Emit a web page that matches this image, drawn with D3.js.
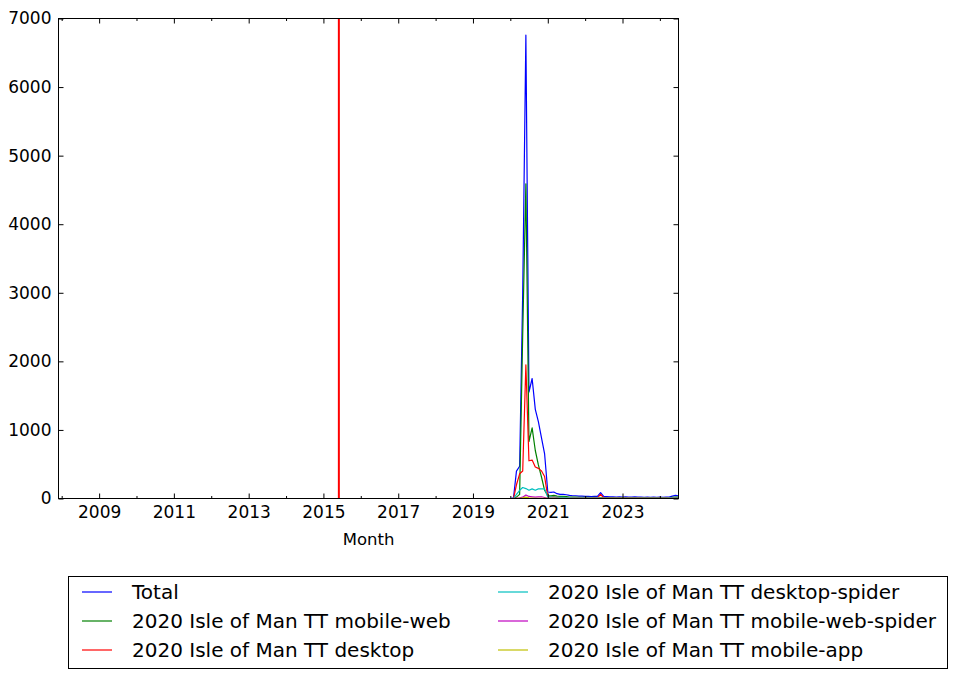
<!DOCTYPE html>
<html><head><meta charset="utf-8">
<script src="https://cdn.jsdelivr.net/npm/d3@7"></script>
<style>body{margin:0;background:#fff}svg{display:block}text{font-family:"DejaVu Sans",sans-serif;fill:#000}</style>
</head><body>
<script>
// ---- data ----
const seriesNames = ["Total","2020 Isle of Man TT mobile-web","2020 Isle of Man TT desktop","2020 Isle of Man TT desktop-spider","2020 Isle of Man TT mobile-web-spider","2020 Isle of Man TT mobile-app"];
const seriesColors = ["#0000ff","#008000","#ff0000","#00bfbf","#bf00bf","#bfbf00"];
// first month shown (all series zero until the article existed)
const leadMonth = "2007-12";
// monthly values 2020-01 .. 2024-07
const firstMonth = "2020-01", lastMonth = "2024-07";
const total = [0,10,400,470,3000,6757,1550,1750,1300,1120,880,650,
  95,90,95,70,60,60,55,45,40,40,35,35,
  30,30,28,30,30,85,30,28,25,25,22,25,
  22,25,22,20,25,22,20,18,20,18,20,18,
  20,18,22,20,35,45,40];
const mobileWeb = [0,0,20,60,2400,4590,830,1030,700,490,310,120,
  40,40,45,35,30,30,28,22,20,20,18,18,
  15,15,14,15,14,12,14,13,12,12,10,12,
  10,12,10,10,12,10,10,9,10,9,10,9,
  10,9,11,10,18,22,20];
const desktop = [0,0,200,360,400,1950,550,560,460,440,400,320,
  25,22,25,15,12,12,12,10,10,10,8,8,
  8,8,7,8,8,60,8,7,6,6,6,6,
  6,6,5,5,6,5,5,4,5,4,5,4,
  5,4,5,5,8,10,9];
const desktopSpider = [0,0,60,120,160,145,120,140,120,140,140,140,
  20,25,22,18,16,15,14,12,10,10,9,9,
  8,8,8,7,8,10,7,7,6,7,6,7,
  6,6,6,5,6,6,5,5,5,5,5,5,
  5,5,6,8,9,10,9];
const mobileWebSpider = [0,0,5,10,20,50,30,25,20,25,25,15,
  3,3,2,2,2,2,2,2,2,2,1,1,
  1,1,1,1,1,2,1,1,1,1,1,1,
  1,1,1,1,1,1,1,1,1,1,1,1,
  1,1,1,1,2,2,2];
const mobileApp = [0,0,2,3,10,20,8,6,4,4,3,2,
  1,1,1,1,1,1,1,1,1,1,1,1,
  1,1,1,1,1,1,1,1,1,1,1,1,
  1,1,1,1,1,1,1,1,1,1,1,1,
  1,1,1,1,1,1,1];
const markerDate = "2015-06";
const xDomain = ["2007-12","2024-07"];
const yTicks = [0,1000,2000,3000,4000,5000,6000,7000];
const xLabel = "Month";

// ---- drawing ----
const W = 956, H = 679;
const m = {left:58.5, right:678.5, top:18.5, bottom:498.5};
const parse = d3.timeParse("%Y-%m");
const months = d3.timeMonth.range(parse(firstMonth), d3.timeMonth.offset(parse(lastMonth),1));
const allValues = [total, mobileWeb, desktop, desktopSpider, mobileWebSpider, mobileApp];

const x = d3.scaleTime().domain(xDomain.map(parse)).range([m.left, m.right]);
const y = d3.scaleLinear().domain([0,7000]).range([m.bottom, m.top]);

const svg = d3.select("body").append("svg").attr("width",W).attr("height",H);
svg.append("rect").attr("width",W).attr("height",H).attr("fill","#fff");

svg.append("clipPath").attr("id","c").append("rect")
  .attr("x",m.left).attr("y",m.top).attr("width",m.right-m.left).attr("height",m.bottom-m.top);
const plot = svg.append("g").attr("clip-path","url(#c)");

const line = d3.line().x(d=>x(d[0])).y(d=>y(d[1]));
allValues.forEach((vals,i)=>{
  const pts = [[parse(leadMonth),0]].concat(months.map((d,j)=>[d, vals[j]]));
  plot.append("path").attr("d",line(pts)).attr("fill","none")
    .attr("stroke",seriesColors[i]).attr("stroke-width",1.2).attr("stroke-linejoin","round");
});
// vertical marker
plot.append("line").attr("x1",x(parse(markerDate))).attr("x2",x(parse(markerDate)))
  .attr("y1",m.top).attr("y2",m.bottom).attr("stroke","#ff0000").attr("stroke-width",2);

// frame
svg.append("rect").attr("x",m.left).attr("y",m.top).attr("width",m.right-m.left).attr("height",m.bottom-m.top)
  .attr("fill","none").attr("stroke","#000").attr("stroke-width",1);

// y ticks (inside, both sides)
const yAxisL = d3.axisLeft(y).tickValues(yTicks).tickSizeInner(-5).tickSizeOuter(0).tickPadding(7).tickFormat(d3.format("d"));
const gyl = svg.append("g").attr("transform",`translate(${m.left},0)`).call(yAxisL);
const yAxisR = d3.axisRight(y).tickValues(yTicks).tickSizeInner(-5).tickSizeOuter(0).tickFormat("");
const gyr = svg.append("g").attr("transform",`translate(${m.right},0)`).call(yAxisR);

// x ticks
const majorYears = d3.range(2009,2025,2).map(v=>new Date(v,0,1));
const minorYears = d3.range(2008,2025,2).map(v=>new Date(v,0,1));
const gxb = svg.append("g").attr("transform",`translate(0,${m.bottom})`)
  .call(d3.axisBottom(x).tickValues(majorYears).tickSizeInner(-5).tickSizeOuter(0).tickPadding(7).tickFormat(d3.timeFormat("%Y")));
const gxbm = svg.append("g").attr("transform",`translate(0,${m.bottom})`)
  .call(d3.axisBottom(x).tickValues(minorYears).tickSizeInner(-2.5).tickSizeOuter(0).tickFormat(""));
const gxt = svg.append("g").attr("transform",`translate(0,${m.top})`)
  .call(d3.axisTop(x).tickValues(majorYears).tickSizeInner(-5).tickSizeOuter(0).tickFormat(""));
const gxtm = svg.append("g").attr("transform",`translate(0,${m.top})`)
  .call(d3.axisTop(x).tickValues(minorYears).tickSizeInner(-2.5).tickSizeOuter(0).tickFormat(""));
[gyl,gyr,gxb,gxbm,gxt,gxtm].forEach(g=>{
  g.select(".domain").remove();
  g.selectAll("line").attr("stroke","#000");
  g.selectAll("text").attr("font-size",17).attr("font-family","DejaVu Sans").attr("fill","#000");
});

svg.append("text").attr("x",(m.left+m.right)/2).attr("y",545).attr("text-anchor","middle")
  .attr("font-size",16.5).text(xLabel);

// legend
const lg = svg.append("g");
lg.append("rect").attr("x",68.5).attr("y",576.5).attr("width",879).attr("height",92)
  .attr("fill","#fff").attr("stroke","#000").attr("stroke-width",1);
const colX = [82,498], rowY = [592,621,650];
seriesNames.forEach((n,i)=>{
  const cx = colX[Math.floor(i/3)], cy = rowY[i%3];
  lg.append("line").attr("x1",cx).attr("x2",cx+30).attr("y1",cy).attr("y2",cy)
    .attr("stroke",seriesColors[i]).attr("stroke-width",1.2);
  lg.append("text").attr("x",cx+50).attr("y",cy).attr("dy","0.36em").attr("font-size",20).text(n);
});
</script>
</body></html>
